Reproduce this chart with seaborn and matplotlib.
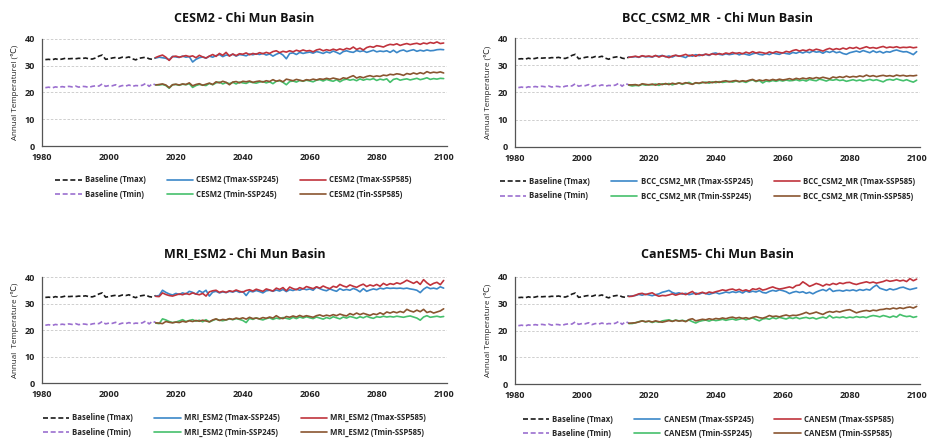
import numpy as np
import pandas as pd
import matplotlib
matplotlib.use("Agg")
import matplotlib.pyplot as plt
import seaborn as sns

sns.set_style("white")
plt.rcParams['font.family'] = ['Open Sans', 'DejaVu Sans']

# ---------------- data ----------------
base_years = list(range(1981, 2015))
proj_years = list(range(2014, 2101))

base_tmax = [32.3, 32.4, 32.2, 32.6, 32.3, 32.5, 32.8, 32.6, 32.7, 32.6,
             32.8, 32.7, 32.9, 32.6, 32.5, 32.9, 33.6, 34.0, 32.4, 32.6,
             32.9, 33.1, 32.8, 33.2, 33.0, 33.3, 32.6, 32.2, 32.8, 33.0,
             33.2, 32.6, 32.4, 33.0]
base_tmin = [21.8, 22.0, 21.7, 22.1, 21.9, 22.2, 22.0, 22.3, 22.1, 22.4,
             22.0, 22.3, 22.2, 21.9, 22.3, 22.5, 22.4, 23.2, 22.3, 22.6,
             22.5, 22.9, 22.2, 22.6, 22.4, 22.8, 22.3, 22.6, 22.5, 22.7,
             23.4, 22.3, 23.3, 22.8]

cesm2_tmax245 = [32.9,
                 33.2, 33.0, 32.8, 32.2, 33.5, 33.3, 33.1, 33.6, 33.2, 33.4,
                 31.4, 32.4, 33.0, 33.3, 32.8, 33.6, 33.2, 33.8, 34.2, 33.4,
                 34.0, 33.8, 34.3, 33.6, 34.2, 34.0, 33.7, 34.4, 34.1, 34.5,
                 34.2, 34.6, 34.0, 34.4, 33.6, 34.3, 34.8, 34.0, 32.6, 34.6,
                 34.8, 34.2, 35.0, 34.6, 34.9, 35.1, 34.7, 35.3, 35.0, 34.6,
                 35.2, 34.8, 35.5, 35.0, 34.4, 35.3, 35.6, 35.2, 35.0, 35.7,
                 35.3, 35.6, 35.0, 35.4, 35.8, 35.2, 35.5, 35.3, 35.6, 35.0,
                 35.8, 34.9, 35.6, 35.9, 35.3, 35.7, 36.0, 35.4, 35.8, 35.5,
                 35.9, 35.6, 35.7, 36.0, 36.1, 36.0]
cesm2_tmax585 = [33.1,
                 33.6, 34.0, 33.2, 32.0, 33.4, 33.6, 33.2, 33.5, 33.8, 33.4,
                 33.7, 33.0, 33.9, 33.3, 32.9, 33.6, 34.2, 33.5, 34.6, 33.9,
                 35.0, 33.6, 34.4, 33.8, 34.5, 34.3, 34.8, 34.1, 34.6, 34.3,
                 34.9, 34.5, 35.0, 34.6, 35.3, 35.6, 34.9, 35.4, 35.1, 35.6,
                 35.2, 35.8, 35.4, 35.9, 35.5, 35.7, 35.2, 35.9, 36.2, 35.6,
                 36.0, 35.7, 36.2, 35.8, 36.3, 35.9, 36.5, 36.2, 37.0, 36.1,
                 36.6, 35.9, 36.8, 37.2, 36.9, 37.5, 37.3, 37.0, 37.6, 38.0,
                 37.8, 38.2, 37.6, 38.0, 38.3, 37.9, 38.2, 38.4, 38.0, 38.5,
                 38.2, 38.7, 38.4, 38.9, 38.3, 38.5]
cesm2_tmin245 = [22.9,
                 22.8, 23.0, 22.6, 21.6, 22.9, 23.0, 22.7, 23.1, 22.9, 23.3,
                 21.9, 22.6, 23.0, 22.8, 22.6, 23.4, 22.9, 23.6, 23.9, 23.2,
                 23.7, 23.3, 23.8, 23.2, 23.9, 23.6, 23.4, 24.0, 23.7, 23.5,
                 23.9, 24.1, 23.6, 24.0, 23.3, 24.2, 24.4, 23.8, 22.9, 24.1,
                 24.3, 23.9, 24.5, 24.2, 24.6, 24.3, 24.0, 24.6, 24.8, 24.3,
                 24.9, 24.5, 24.2, 24.8, 24.0, 24.7, 25.0, 24.6, 24.9, 24.4,
                 25.1, 24.6, 25.0, 24.8, 25.2, 24.5, 25.0, 24.7, 25.1, 23.8,
                 24.9, 25.2, 24.6, 24.9, 25.1, 24.7, 25.0, 25.3, 24.8, 25.1,
                 25.5, 24.9, 25.2, 25.0, 25.3, 25.2]
cesm2_tmin585 = [22.8,
                 23.0, 23.2, 22.8, 21.8, 22.9, 23.1, 22.8, 23.2, 23.0, 23.6,
                 22.5, 23.0, 23.3, 22.7, 23.1, 23.5, 23.0, 24.0, 23.6, 24.2,
                 23.8, 22.9, 23.9, 24.1, 23.6, 24.2, 24.0, 24.3, 23.8, 24.1,
                 24.3, 23.9, 24.4, 24.1, 24.8, 24.2, 24.6, 24.0, 25.0, 24.7,
                 24.4, 24.9, 24.6, 24.3, 24.8, 24.6, 25.0, 24.7, 25.1, 24.9,
                 25.3, 25.0, 25.4, 25.1, 24.8, 25.5, 25.2, 25.8, 26.3, 25.4,
                 25.9, 25.5, 26.0, 26.3, 25.9, 26.2, 26.0, 26.5, 26.3, 26.8,
                 26.6, 27.0, 26.8, 26.4, 27.1, 26.8, 27.3, 26.9, 27.4, 27.0,
                 27.8, 27.3, 27.6, 27.4, 27.7, 27.3]

bcc_tmax245 = [33.0,
               33.0, 33.2, 32.9, 33.4, 33.1, 33.2, 33.0, 33.5, 33.3, 33.6,
               33.1, 33.4, 33.0, 33.6, 33.4, 33.2, 32.8, 33.7, 33.3, 33.9,
               33.5, 33.8, 34.0, 33.6, 34.3, 34.5, 34.0, 33.8, 34.2, 33.9,
               34.1, 34.4, 33.8, 34.3, 34.0, 33.7, 34.2, 34.5, 34.0, 33.8,
               34.3, 33.9, 34.5, 34.2, 34.0, 34.6, 34.3, 34.1, 34.7, 34.4,
               34.9, 34.5, 35.0, 34.6, 35.2, 34.8, 35.0, 34.4, 35.1, 34.7,
               35.2, 34.6, 34.9, 34.3, 34.0, 34.6, 34.9, 35.2, 34.8, 35.4,
               35.0, 34.6, 35.3, 34.7, 35.1, 34.5, 35.0, 34.8, 35.3, 35.6,
               35.2, 34.9, 35.0, 34.5, 33.9, 35.0]
bcc_tmax585 = [32.9,
               33.1, 33.3, 33.0, 33.5, 33.2, 33.4, 33.1, 33.6, 33.0, 33.5,
               33.2, 32.8, 33.4, 33.7, 33.3, 33.6, 34.0, 33.4, 33.8, 33.3,
               33.9, 33.6, 34.1, 33.8, 34.2, 33.9, 34.3, 34.0, 34.5, 34.2,
               34.7, 34.3, 34.6, 34.2, 34.8, 34.4, 35.0, 34.5, 34.8, 34.6,
               34.3, 34.9, 34.5, 35.0, 34.7, 34.5, 35.1, 34.8, 35.4, 35.7,
               35.2, 35.6, 35.3, 35.8, 35.4, 35.9, 35.6, 35.2, 35.8, 36.2,
               35.7, 36.1, 35.8, 36.3, 35.9, 36.5, 36.2, 36.6, 36.0, 36.4,
               36.8, 36.3, 36.5, 36.2, 36.6, 36.9, 36.4, 36.7, 36.5, 36.8,
               36.4, 36.6, 36.5, 36.7, 36.4, 36.6]
bcc_tmin245 = [22.7,
               22.4, 22.6, 22.5, 23.0, 22.7, 22.9, 22.8, 23.1, 22.6, 23.2,
               23.0, 23.3, 22.8, 23.2, 23.5, 23.0, 23.4, 23.7, 23.1, 23.5,
               23.3, 23.6, 23.8, 23.4, 23.9, 23.6, 24.0, 23.7, 23.9, 24.1,
               23.8, 24.2, 23.9, 24.1, 23.7, 24.3, 24.6, 24.0, 24.4, 23.5,
               24.2, 24.0, 24.4, 24.1, 24.5, 24.2, 24.6, 24.3, 24.4, 24.7,
               24.3, 24.6, 24.2, 24.8, 24.5, 24.3, 24.9, 24.6, 24.2, 24.7,
               24.5, 24.8, 24.4, 24.6, 24.1, 24.4, 24.7, 24.3, 24.6, 24.2,
               24.5, 24.8, 24.4, 24.7, 24.3, 23.9, 24.6, 24.8, 24.5, 25.0,
               24.6, 24.3, 24.7, 24.2, 23.8, 24.5]
bcc_tmin585 = [22.8,
               22.8, 22.9, 22.6, 23.2, 23.0, 22.8, 23.1, 22.7, 23.2, 22.9,
               23.3, 22.9, 23.4, 23.1, 23.5, 23.2, 23.6, 23.3, 23.0, 23.6,
               23.4, 23.8, 23.5, 23.9, 23.6, 24.0, 23.7, 24.1, 24.3, 23.9,
               24.2, 24.4, 24.0, 24.3, 24.1, 24.5, 24.8, 24.2, 24.6, 24.3,
               24.7, 24.4, 24.8, 24.5, 24.9, 24.6, 24.8, 25.1, 24.7, 25.2,
               24.9, 25.3, 25.0, 25.4, 25.1, 25.5, 25.2, 25.6, 25.3, 25.0,
               25.7, 25.4, 25.8, 25.5, 26.0, 25.6, 25.9, 25.7, 26.1, 25.8,
               26.4, 25.9, 26.2, 25.8, 26.1, 26.3, 26.0, 26.2, 25.9, 26.4,
               26.1, 26.3, 26.0, 26.2, 26.1, 26.3]

mri_tmax245 = [32.8,
               33.0, 35.0, 34.2, 33.6, 33.2, 33.8, 33.4, 34.0, 33.6, 34.6,
               34.2, 33.5, 34.8, 34.1, 35.0, 32.8, 34.3, 34.6, 34.0, 34.4,
               34.1, 34.6, 34.3, 34.8, 34.2, 34.5, 33.0, 34.7, 34.4, 34.9,
               34.5, 34.0, 34.8, 35.0, 34.6, 35.1, 34.7, 35.3, 34.5, 35.2,
               34.9, 35.4, 35.0, 35.6, 35.2, 35.5, 35.0, 36.2, 35.6, 35.1,
               34.8, 35.5, 35.0, 34.6, 35.6, 35.0, 35.3, 35.0, 35.7, 35.2,
               34.4, 35.6, 34.6, 35.1, 35.5, 35.2, 35.8, 35.5, 35.9, 35.7,
               35.8, 35.7, 35.8, 35.6, 35.8, 35.5, 35.3, 35.0, 34.1, 35.4,
               36.2, 35.6, 35.8, 35.5, 36.3, 35.8]
mri_tmax585 = [32.7,
               32.6, 34.0, 33.4, 33.0, 32.8, 33.2, 33.6, 33.3, 33.8, 33.4,
               34.0, 33.6, 33.3, 33.8, 32.8, 34.4, 34.8, 35.0, 34.2, 34.6,
               34.2, 34.8, 34.5, 35.1, 34.6, 34.3, 34.9, 35.2, 34.7, 35.4,
               35.0, 34.6, 35.5, 35.1, 34.7, 35.8, 35.3, 36.0, 34.8, 36.2,
               35.6, 35.2, 36.0, 35.5, 36.4, 36.0, 35.6, 36.3, 35.8, 36.6,
               36.0, 35.6, 36.5, 36.1, 37.2, 36.6, 36.2, 37.0, 36.5, 36.1,
               36.8, 37.3, 36.4, 37.0, 36.6, 37.2, 36.5, 37.6, 36.9, 37.5,
               37.2, 37.8, 37.4, 38.0, 38.8, 38.2, 37.6, 38.3, 37.2, 39.0,
               37.8, 36.9, 37.6, 38.0, 37.1, 38.7]
mri_tmin245 = [22.6,
               22.4, 24.2, 23.8, 23.2, 22.8, 23.0, 23.4, 23.9, 23.2, 23.6,
               23.9, 23.3, 23.7, 23.1, 23.9, 23.0, 23.6, 24.1, 23.7, 23.5,
               23.8, 24.2, 23.9, 24.3, 24.0, 23.6, 22.8, 24.4, 24.0, 24.6,
               24.1, 23.8, 24.3, 24.6, 24.0, 24.5, 24.2, 24.7, 24.4, 24.1,
               24.8, 24.3, 24.9, 24.5, 25.0, 24.6, 24.3, 24.9, 24.5, 24.1,
               24.7, 24.3, 25.0, 24.6, 24.2, 24.9, 24.5, 25.1, 24.8, 24.4,
               25.0, 24.6, 25.2, 24.7, 24.4, 25.0, 24.8, 25.2, 24.9, 25.1,
               24.9, 25.2, 25.0, 24.8, 25.1, 25.3, 24.9, 24.5, 23.7, 24.9,
               25.4, 24.8, 25.0, 25.2, 24.9, 25.1]
mri_tmin585 = [22.7,
               22.6, 22.4, 23.2, 22.9, 22.7, 23.0, 22.8, 23.3, 23.0, 23.5,
               23.2, 23.6, 23.3, 23.7, 23.4, 23.1, 23.8, 24.2, 23.6, 24.0,
               23.8, 24.3, 24.0, 24.5, 24.2, 24.6, 24.1, 24.8, 24.3, 24.5,
               24.2, 24.7, 24.4, 24.9, 24.5, 25.4, 24.6, 24.3, 25.1, 24.8,
               25.3, 24.9, 25.5, 25.0, 25.4, 25.1, 24.8, 25.4, 25.7, 25.2,
               25.6, 25.3, 25.8, 25.4, 26.0, 25.6, 25.3, 26.2, 25.7, 26.4,
               25.8, 26.3, 25.9, 25.5, 26.1, 25.8, 26.5, 25.9, 26.8, 26.4,
               26.9, 26.5, 27.0, 26.6, 27.8, 27.2, 26.8, 27.5, 26.9, 27.8,
               26.6, 27.0, 26.4, 26.8, 27.2, 28.0]

can_tmax245 = [32.8,
               32.9, 33.1, 33.5, 33.2, 33.6, 33.3, 33.0, 33.4, 33.7, 34.3,
               34.6, 35.0, 34.2, 33.8, 34.1, 33.6, 33.9, 33.4, 33.7, 34.0,
               33.6, 34.1, 33.8, 33.5, 33.9, 34.2, 33.7, 34.0, 34.4, 34.1,
               34.5, 34.2, 34.6, 34.0, 34.8, 34.3, 34.7, 34.4, 34.9, 34.2,
               34.0, 34.6, 35.0, 34.7, 35.2, 34.9, 34.5, 33.8, 34.3, 34.6,
               34.2, 34.5, 33.9, 34.3, 33.7, 34.4, 34.9, 35.3, 34.8, 35.7,
               34.6, 34.9, 35.0, 34.7, 35.1, 34.9, 35.2, 34.8, 35.3, 35.0,
               35.4, 35.1, 36.2, 37.0, 35.8, 35.4, 35.0, 35.6, 35.2, 35.5,
               36.0, 36.2, 35.7, 35.3, 35.6, 35.9]
can_tmax585 = [32.7,
               32.8, 33.2, 33.7, 33.9, 33.4, 33.8, 34.1, 33.3, 32.8, 33.1,
               33.0, 33.3, 33.7, 33.2, 33.6, 33.9, 33.4, 34.0, 34.6, 33.5,
               33.9, 34.3, 33.8, 34.4, 34.1, 34.5, 34.8, 35.2, 34.9, 35.3,
               35.5, 35.0, 35.4, 34.8, 35.2, 34.7, 35.6, 35.3, 35.8, 35.1,
               35.4, 35.9, 36.3, 35.8, 35.5, 35.7, 36.0, 36.3, 35.9, 36.8,
               37.0, 38.2, 37.4, 36.5, 37.0, 37.6, 37.2, 36.6, 37.3, 37.0,
               37.6, 37.2, 37.8, 37.5, 37.9, 38.0, 37.5, 37.2, 37.6, 37.9,
               38.2, 37.8, 38.1, 37.7, 38.0, 38.3, 38.8, 38.4, 38.6, 38.9,
               38.5, 38.8, 38.3, 39.4, 38.6, 39.2]
can_tmin245 = [22.6,
               22.6, 22.9, 23.3, 23.6, 23.2, 23.5, 23.0, 23.4, 23.1, 23.6,
               23.8, 24.0, 23.5, 23.9, 23.6, 23.8, 23.5, 23.9, 23.3, 22.8,
               23.4, 23.7, 23.9, 23.5, 24.0, 23.7, 23.9, 24.2, 23.8, 24.1,
               24.3, 23.9, 24.2, 24.5, 24.0, 24.4, 24.7, 24.1, 23.6, 24.3,
               24.5, 24.2, 24.8, 24.4, 24.9, 24.6, 24.3, 24.8, 24.5, 24.9,
               24.4, 24.7, 24.9, 24.5, 24.8, 24.3, 24.7, 25.0, 24.6, 25.6,
               24.7, 25.0, 24.8, 25.1, 24.7, 25.0, 24.8, 25.2, 24.9, 25.1,
               24.8, 25.3, 25.6, 25.4, 25.1, 25.6, 25.3, 24.9, 25.4, 25.0,
               26.0, 25.5, 25.2, 25.4, 24.9, 25.2]
can_tmin585 = [22.7,
               22.8, 22.9, 23.2, 23.6, 23.3, 23.5, 23.2, 23.6, 23.3, 23.1,
               23.4, 23.7, 23.4, 23.8, 23.5, 23.7, 23.3, 24.1, 24.4, 23.6,
               23.9, 24.2, 24.0, 24.4, 24.1, 24.5, 24.3, 24.7, 24.4, 24.8,
               25.0, 24.6, 24.9, 24.5, 24.8, 24.4, 24.9, 25.2, 24.8, 24.6,
               25.0, 25.6, 25.2, 25.4, 25.1, 25.5, 25.8, 25.4, 25.7, 25.6,
               25.9, 26.3, 26.8, 26.2, 26.5, 26.9, 26.4, 26.0, 26.7, 27.1,
               26.8, 27.2, 26.9, 27.3, 27.6, 27.8, 27.2, 26.6, 27.0, 27.3,
               27.5, 27.2, 27.6, 27.4, 27.8, 27.9, 28.2, 28.0, 28.4, 28.1,
               28.5, 28.2, 28.6, 28.8, 28.4, 29.0]

titles = ["CESM2 - Chi Mun Basin", "BCC_CSM2_MR  - Chi Mun Basin",
          "MRI_ESM2 - Chi Mun Basin", "CanESM5- Chi Mun Basin"]
model_labels = ["CESM2", "BCC_CSM2_MR", "MRI_ESM2", "CANESM"]
tmin585_names = ["Tin-SSP585", "Tmin-SSP585", "Tmin-SSP585", "Tmin-SSP585"]
ylabels = ["Annual Temperaturel (\u2103)", "Annual Temperature (\u2103)",
           "Annual  Temperature (\u2103)", "Annual Temperature (\u2103)"]
panel_series = [
    (cesm2_tmax245, cesm2_tmax585, cesm2_tmin245, cesm2_tmin585),
    (bcc_tmax245, bcc_tmax585, bcc_tmin245, bcc_tmin585),
    (mri_tmax245, mri_tmax585, mri_tmin245, mri_tmin585),
    (can_tmax245, can_tmax585, can_tmin245, can_tmin585),
]
x_ticks = [1980, 2000, 2020, 2040, 2060, 2080, 2100]
y_ticks = [0, 10, 20, 30, 40]

# ---------------- styling ----------------
c_base_max = "#1a1a1a"
c_base_min = "#9b6fcf"
c_max245 = "#3b87c8"
c_max585 = "#c0333c"
c_min245 = "#45c06c"
c_min585 = "#8a5530"

fig = plt.figure(figsize=(9.3, 4.4), dpi=100)
positions = [
    [42 / 930, 1 - 146 / 440, 405 / 930, 107 / 440],
    [515 / 930, 1 - 147 / 440, 405 / 930, 109 / 440],
    [42 / 930, 1 - 383 / 440, 405 / 930, 106 / 440],
    [515 / 930, 1 - 384 / 440, 405 / 930, 107 / 440],
]
title_pads = [12, 12, 14, 14]
legend_y = [-0.21, -0.21, -0.22, -0.22]
legend_x = [0.473, 0.475, 0.475, 0.477]

for i in range(4):
    ax = fig.add_axes(positions[i])
    tmax245, tmax585, tmin245, tmin585 = panel_series[i]
    m = model_labels[i]
    lw = 1.2
    sns.lineplot(x=base_years, y=base_tmax, ax=ax, color=c_base_max, lw=lw,
                 linestyle=(0, (3, 1.6)), label="Baseline (Tmax)")
    sns.lineplot(x=base_years, y=base_tmin, ax=ax, color=c_base_min, lw=lw,
                 linestyle=(0, (3, 1.6)), label="Baseline (Tmin)")
    sns.lineplot(x=proj_years, y=tmax245, ax=ax, color=c_max245, lw=lw,
                 label=f"{m} (Tmax-SSP245)")
    sns.lineplot(x=proj_years, y=tmin245, ax=ax, color=c_min245, lw=lw,
                 label=f"{m} (Tmin-SSP245)")
    sns.lineplot(x=proj_years, y=tmax585, ax=ax, color=c_max585, lw=lw,
                 label=f"{m} (Tmax-SSP585)")
    sns.lineplot(x=proj_years, y=tmin585, ax=ax, color=c_min585, lw=lw,
                 label=f"{m} ({tmin585_names[i]})")

    ax.set_xlim(1980, 2101)
    ax.set_ylim(0, 40)
    ax.set_xticks(x_ticks)
    ax.set_yticks(y_ticks)
    ax.set_xticklabels([str(t) for t in x_ticks], fontsize=6.5, fontweight='bold', color='#222222')
    ax.set_yticklabels([str(t) for t in y_ticks], fontsize=6.5, fontweight='bold', color='#222222')
    ax.tick_params(axis='both', direction='out', length=3, width=0.8, color='#555555', pad=2)
    for s in ['top', 'right']:
        ax.spines[s].set_visible(False)
    for s in ['left', 'bottom']:
        ax.spines[s].set_color('#555555')
        ax.spines[s].set_linewidth(0.9)
    for yv in [10, 20, 30, 40]:
        ax.axhline(yv, color='#c8c8c8', lw=0.6, linestyle=(0, (3, 2)), zorder=0)
    ax.set_xlabel("")
    ax.set_ylabel(ylabels[i], fontsize=5.8, color='#222222', labelpad=4)
    ax.set_title(titles[i], fontsize=9, fontweight='bold', color='#111111', pad=title_pads[i])

    handles, labels = ax.get_legend_handles_labels()
    ax.legend(handles, labels,
              loc='upper center', bbox_to_anchor=(legend_x[i], legend_y[i]), ncol=3,
              frameon=False, handlelength=3.4, handletextpad=0.4,
              columnspacing=2.7, labelspacing=0.7,
              prop={'size': 5.6, 'weight': 'bold'})

fig.savefig("out.png", dpi=100, facecolor='white')
